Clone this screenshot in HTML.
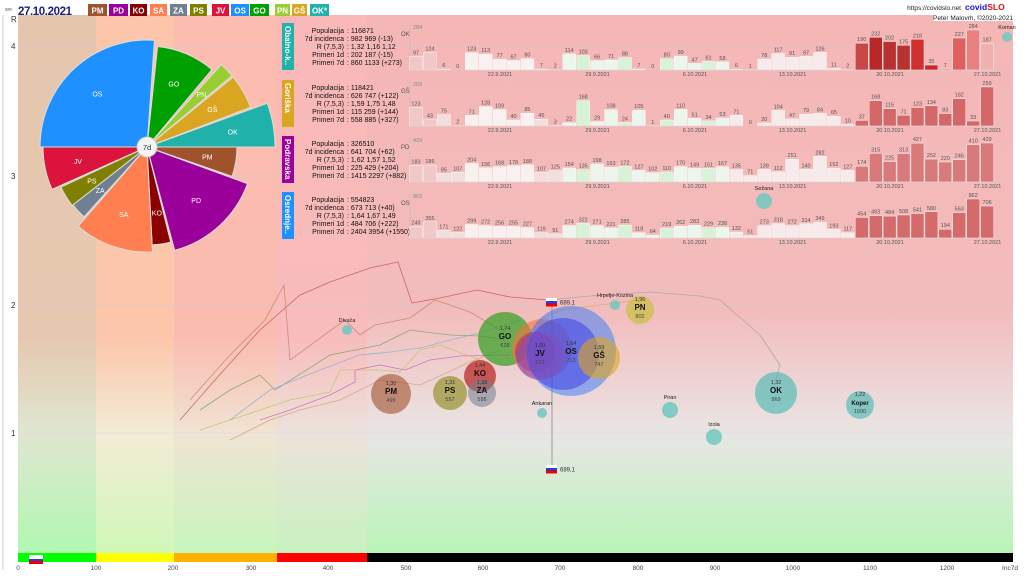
<!DOCTYPE html>
<html><head><meta charset="utf-8">
<style>
html,body{margin:0;padding:0;background:#fff;}
svg{display:block;font-family:"Liberation Sans",sans-serif;}
</style></head>
<body>
<svg id="s" width="1024" height="576" viewBox="0 0 1024 576" xmlns="http://www.w3.org/2000/svg">
<defs>
<linearGradient id="bg" x1="0" y1="0" x2="0" y2="1">
<stop offset="0" stop-color="#f5b6b6"/><stop offset="0.55" stop-color="#f3bcbc"/>
<stop offset="0.72" stop-color="#ecdada"/><stop offset="0.78" stop-color="#e8e6e4"/>
<stop offset="1" stop-color="#b8f5b8"/></linearGradient>
<linearGradient id="c1" x1="0" y1="0" x2="0" y2="1"><stop offset="0" stop-color="#e5c6ad"/><stop offset="0.6" stop-color="#e6c8b0"/><stop offset="0.78" stop-color="#e0e6d0"/><stop offset="1" stop-color="#b0f8b0"/></linearGradient>
<linearGradient id="c2" x1="0" y1="0" x2="0" y2="1"><stop offset="0" stop-color="#fdc6aa"/><stop offset="0.6" stop-color="#fcc6aa"/><stop offset="0.78" stop-color="#f2ecd6"/><stop offset="1" stop-color="#d0f8b8"/></linearGradient>
<linearGradient id="c3" x1="0" y1="0" x2="0" y2="1"><stop offset="0" stop-color="#fcbcb0"/><stop offset="0.6" stop-color="#fbbcb0"/><stop offset="0.78" stop-color="#f0e4d4"/><stop offset="1" stop-color="#c8f5bc"/></linearGradient>
<linearGradient id="c4" x1="0" y1="0" x2="0" y2="1"><stop offset="0" stop-color="#fbb8b8"/><stop offset="0.6" stop-color="#f8bcbc"/><stop offset="0.78" stop-color="#ece2dc"/><stop offset="1" stop-color="#c8f2c0"/></linearGradient>
</defs>
<rect x="0" y="0" width="1024" height="576" fill="#fff"/>
<rect x="18" y="15" width="995" height="538" fill="url(#bg)"/>
<rect x="18" y="15" width="78" height="538" fill="url(#c1)"/>
<rect x="96" y="15" width="78" height="538" fill="url(#c2)"/>
<rect x="174" y="15" width="103" height="538" fill="url(#c3)"/>
<rect x="277" y="15" width="90" height="538" fill="url(#c4)"/>
<line x1="3" y1="15" x2="3" y2="570" stroke="#ccc"/>
<g stroke="#d8c8c8" stroke-width="0.8">
<line x1="18" y1="46" x2="1013" y2="46"/><line x1="18" y1="176" x2="1013" y2="176"/>
<line x1="18" y1="305" x2="1013" y2="305"/><line x1="18" y1="433" x2="1013" y2="433" stroke="#ddd"/></g>
<g font-size="8" fill="#333"><text x="11" y="22">R</text><text x="11" y="49">4</text><text x="11" y="179">3</text><text x="11" y="308">2</text><text x="11" y="436">1</text></g>
<rect x="18" y="553" width="78" height="9" fill="#00ff00"/><rect x="96" y="553" width="78" height="9" fill="#ffff00"/>
<rect x="174" y="553" width="103" height="9" fill="#ffb000"/><rect x="277" y="553" width="90" height="9" fill="#ff0000"/>
<rect x="367" y="553" width="646" height="9" fill="#000"/>
<rect x="29" y="555" width="14" height="4" fill="#fff"/><rect x="29" y="559" width="14" height="2.5" fill="#2040e0"/><rect x="29" y="561" width="14" height="3" fill="#e00"/>
<g font-size="6.5" fill="#444" text-anchor="middle">
<text x="18" y="570">0</text><text x="96" y="570">100</text><text x="173" y="570">200</text><text x="251" y="570">300</text><text x="328" y="570">400</text><text x="406" y="570">500</text><text x="483" y="570">600</text><text x="560" y="570">700</text><text x="638" y="570">800</text><text x="715" y="570">900</text><text x="793" y="570">1000</text><text x="870" y="570">1100</text><text x="947" y="570">1200</text><text x="1010" y="570">Inc7d</text></g>
<text x="5" y="11" font-size="5" fill="#555">sre</text>
<text x="18" y="15" font-size="11.5" font-weight="bold" fill="#1a237e" textLength="54">27.10.2021</text>
<g font-size="8" font-weight="bold" fill="#fff" text-anchor="middle">
<rect x="88" y="4" width="19" height="12" fill="#a0522d"/><text x="97.5" y="13.5">PM</text>
<rect x="109" y="4" width="19" height="12" fill="#9b009b"/><text x="118.5" y="13.5">PD</text>
<rect x="130" y="4" width="17" height="12" fill="#8b0000"/><text x="138.5" y="13.5">KO</text>
<rect x="150" y="4" width="17" height="12" fill="#ff7f50"/><text x="158.5" y="13.5">SA</text>
<rect x="170" y="4" width="17" height="12" fill="#708090"/><text x="178.5" y="13.5">ZA</text>
<rect x="190" y="4" width="17" height="12" fill="#808000"/><text x="198.5" y="13.5">PS</text>
<rect x="212" y="4" width="17" height="12" fill="#dc143c"/><text x="220.5" y="13.5">JV</text>
<rect x="231" y="4" width="18" height="12" fill="#1e90ff"/><text x="240" y="13.5">OS</text>
<rect x="250" y="4" width="19" height="12" fill="#00a000"/><text x="259.5" y="13.5">GO</text>
<rect x="275" y="4" width="15" height="12" fill="#9acd32"/><text x="282.5" y="13.5">PN</text>
<rect x="292" y="4" width="15" height="12" fill="#daa520"/><text x="299.5" y="13.5">GŠ</text>
<rect x="310" y="4" width="19" height="12" fill="#20b2aa"/><text x="319.5" y="13.5">OK*</text></g>
<text x="961" y="10" font-size="6.5" fill="#222" text-anchor="end">https://covidslo.net</text>
<text x="965" y="10" font-size="8.5" font-weight="bold" fill="#1010e0">covid<tspan fill="#e01010">SLO</tspan></text>
<rect x="933" y="13" width="80" height="8" fill="#fff"/>
<text x="1013" y="20" font-size="6.5" fill="#222" text-anchor="end">Peter Malovrh, ©2020-2021</text>
<g id="pie"></g>
<g id="panels"></g>
<g id="bub"></g>
</svg>
<script>
var NS="http://www.w3.org/2000/svg";
function el(p,t,a,txt){var e=document.createElementNS(NS,t);for(var k in a)e.setAttribute(k,a[k]);if(txt!==undefined)e.textContent=txt;p.appendChild(e);return e;}
var pie=document.getElementById('pie'),cx=147,cy=147;
var sec=[["OS",270,364,107,"#1e90ff"],["GO",366,400,101,"#00a000"],["PN",402,410,111,"#9acd32"],["GŠ",411,429,111,"#daa520"],["OK",430,450,128,"#20b2aa"],["PM",450,469,90,"#a0522d"],["PD",470,525,107,"#9b009b"],["KO",526,537,98,"#8b0000"],["SA",537,581,105,"#ff7f50"],["ZA",582,592,94,"#708090"],["PS",592,605,95,"#808000"],["JV",606,630,104,"#dc143c"]];
function pt(a,r){var t=a*Math.PI/180;return [cx+r*Math.sin(t),cy-r*Math.cos(t)];}
sec.forEach(function(s){var a0=s[1],a1=s[2],r=s[3];var p0=pt(a0,r),p1=pt(a1,r);
el(pie,'path',{d:'M'+cx+','+cy+'L'+p0[0]+','+p0[1]+'A'+r+','+r+' 0 '+((a1-a0)>180?1:0)+' 1 '+p1[0]+','+p1[1]+'Z',fill:s[4],stroke:'#ddd','stroke-width':1});
var m=pt((a0+a1)/2,r*0.68);el(pie,'text',{x:m[0],y:m[1]+2.5,'font-size':7,fill:'#fff','text-anchor':'middle'},s[0]);});
el(pie,'circle',{cx:cx,cy:cy,r:10,fill:'#f4f4f4',stroke:'#ccc'});
el(pie,'text',{x:cx,y:cy+3,'font-size':7.5,fill:'#333','text-anchor':'middle'},'7d');
var P=document.getElementById('panels');
var rows=[
{n:"Obalno-k..",c:"#20b2aa",code:"OK",mx:284,y0:23,base:70,late:"#c83232",v:["Populacija : 116871","7d incidenca : 982 969 (-13)","R (7,5,3) : 1,32 1,16 1,12","Primeri 1d : 202 187 (-15)","Primeri 7d : 860 1133 (+273)"],
d:[97,124,6,0,123,113,77,67,80,7,2,114,103,66,71,88,7,0,80,99,47,61,58,6,1,78,117,91,97,126,11,2,190,232,202,175,218,35,7,227,284,187]},
{n:"Goriška",c:"#daa520",code:"GŠ",mx:259,y0:80,base:126,late:"#d46868",v:["Populacija : 118421","7d incidenca : 626 747 (+122)","R (7,5,3) : 1,59 1,75 1,48","Primeri 1d : 115 259 (+144)","Primeri 7d : 558 885 (+327)"],
d:[123,43,75,2,71,128,109,40,85,45,3,22,168,29,108,24,105,1,40,110,51,34,53,71,0,20,104,47,79,84,65,10,37,168,115,71,123,134,83,182,33,259]},
{n:"Podravska",c:"#9b009b",code:"PD",mx:429,y0:136,base:182,late:"#d97a7a",v:["Populacija : 326510","7d incidenca : 641 704 (+62)","R (7,5,3) : 1,62 1,57 1,52","Primeri 1d : 225 429 (+204)","Primeri 7d : 1415 2297 (+882)"],
d:[183,186,95,107,204,156,168,178,188,107,125,154,135,198,163,172,127,102,110,170,149,151,167,135,71,139,112,251,140,282,152,127,174,315,225,313,427,252,220,246,410,429]},
{n:"Osrednje..",c:"#1e90ff",code:"OS",mx:862,y0:192,base:238,late:"#d46a6a",v:["Populacija : 554823","7d incidenca : 673 713 (+40)","R (7,5,3) : 1,64 1,67 1,49","Primeri 1d : 484 706 (+222)","Primeri 7d : 2404 3954 (+1550)"],
d:[249,355,171,122,299,272,256,255,227,119,91,274,322,271,221,285,118,64,219,262,283,229,238,132,51,273,318,272,314,349,193,117,454,493,484,508,541,580,194,563,862,706]}];
var dates=["22.9.2021","29.9.2021","6.10.2021","13.10.2021","20.10.2021","27.10.2021"];
rows.forEach(function(R){
 el(P,'rect',{x:282,y:R.y0,width:12,height:47,fill:R.c});
 el(P,'text',{x:0,y:0,'font-size':8,'font-weight':'bold',fill:'#fff',transform:'translate(285,'+(R.y0+3)+') rotate(90)'},R.n);
 R.v.forEach(function(s,i){var p=s.split(' : ');var y=R.y0+10+i*8;
  el(P,'text',{x:344,y:y,'font-size':7,fill:'#111','text-anchor':'end'},p[0]);
  el(P,'text',{x:347,y:y,'font-size':7,fill:'#111'},': '+p[1]);});
 el(P,'line',{x1:410,y1:R.y0+2,x2:410,y2:R.base,stroke:'#bbb','stroke-width':0.6});
 el(P,'text',{x:413,y:R.y0+6,'font-size':5.5,fill:'#888'},String(R.mx));
 el(P,'text',{x:401,y:R.y0+13,'font-size':6,fill:'#555'},R.code);
 var H=R.base-R.y0-7;
 R.d.forEach(function(v,i){var cxp=416+i*13.93;var h=v/R.mx*H;var col;
  if(i<2)col="#f0c8c8";else if(i<11)col=(i%7==2||i%7==3)?"#f3dede":"#f9f0f0";else if(i<23)col=(i%3==0)?"#d8f2d8":"#ecf6ec";else if(i<32)col="#f6eaea";else col=R.late;
  if(i>=32&&R.code=="OK"){col=["#c84848","#b82828","#b83030","#b83232","#d03030","#c82828","#e06060","#e06060","#e88080","#f0b0b0"][i-32];}
  el(P,'rect',{x:cxp-6.5,y:R.base-h,width:13,height:h,fill:col,stroke:'#fff','stroke-width':0.4});
  el(P,'text',{x:cxp,y:R.base-h-2,'font-size':5.5,fill:'#555','text-anchor':'middle'},String(v));});
 el(P,'line',{x1:410,y1:R.base,x2:1000,y2:R.base,stroke:'#ccc','stroke-width':0.5});
 dates.forEach(function(d,k){el(P,'text',{x:500+k*97.5,y:R.base+6,'font-size':5.5,fill:'#555','text-anchor':'middle'},d);});
});
var B=document.getElementById('bub');
var lines=[["#c05050","180,420 215,380 260,330 300,295 330,282 370,268 398,262 412,303 440,298 477,290 510,297 548,300"],
["#c08070","190,400 230,355 265,320 284,285 290,360 345,320 360,335 375,325 410,318 435,300 470,312 500,330"],
["#70a060","200,410 230,390 260,375 275,390 330,355 380,345 410,330 450,335 480,336 505,340"],
["#80b0d0","230,420 270,390 320,370 360,355 390,352 420,348 450,340 480,333 520,320"],
["#c060c0","260,420 290,410 330,395 355,382 355,370 380,365 405,370 430,360 460,356 510,355"],
["#d0a070","230,440 270,420 300,410 340,400 380,380 420,385 470,362 500,350"],
["#c0c060","200,430 260,410 290,400 330,392 340,370 380,370 400,372 420,350 440,345 480,360"],
["#a0a0a0","548,300 600,295 650,292 700,296 720,300 760,335 780,365 776,380"],
["#e0a060","520,330 560,310 600,305 640,300"]];
lines.forEach(function(L){el(B,'polyline',{points:L[1],fill:'none',stroke:L[0],'stroke-width':0.8,opacity:0.8});});
el(B,'line',{x1:552,y1:302,x2:552,y2:469,stroke:'#999','stroke-width':1});
[[302],[469]].forEach(function(a){var y=a[0];el(B,'rect',{x:546,y:y-4,width:11,height:3,fill:'#fff'});el(B,'rect',{x:546,y:y-1,width:11,height:2.5,fill:'#2040e0'});el(B,'rect',{x:546,y:y+1.5,width:11,height:3,fill:'#e00'});el(B,'text',{x:560,y:y+2.5,'font-size':6,fill:'#333'},'689,1');});
var bub=[[391,394,20,"#a0522d",0.6,"1,30","PM","499"],[450,393,17,"#808000",0.55,"1,31","PS","557"],[480,376,16,"#b00000",0.6,"1,44","KO",""],[482,393,14,"#708090",0.55,"1,38","ZA","598"],
[505,339,27,"#30a020",0.7,"1,74","GO","628"],[542,349,30,"#ff7040",0.55,"","",""],[535,352,20,"#dc143c",0.5,"","",""],[571,351,45,"#1e70ff",0.45,"","",""],[563,354,36,"#3838e8",0.5,"1,64","OS","713"],[540,356,24,"#8050c0",0.6,"1,60","JV","673"],
[599,358,21,"#daa520",0.6,"1,59","GŠ","747"],[640,310,14,"#c8c040",0.7,"1,96","PN","802"],[776,393,21,"#40b8b0",0.6,"1,32","OK","969"],[860,405,14,"#40b8b0",0.6,"1,22","Koper","1090"]];
bub.forEach(function(b){el(B,'circle',{cx:b[0],cy:b[1],r:b[2],fill:b[3],'fill-opacity':b[4]});
 if(b[6]){var cx2=b[0]+(b[6]=="OS"?8:0),cy2=b[1]-2;el(B,'text',{x:cx2,y:cy2-7,'font-size':5.5,fill:'#333','text-anchor':'middle'},b[5]);
 el(B,'text',{x:cx2,y:cy2+2,'font-size':b[6]=="Koper"?6:8,'font-weight':'bold',fill:'#111','text-anchor':'middle'},b[6]);
 if(b[7])el(B,'text',{x:cx2,y:cy2+10,'font-size':5.5,fill:'#444','text-anchor':'middle'},b[7]);}});
[[347,330,5,"Divača"],[615,305,5,"Hrpelje-Kozina"],[542,413,5,"Ankaran"],[670,410,8,"Piran"],[714,437,8,"Izola"],[764,201,8,"Sežana"],[1007,37,5,"Koman"]].forEach(function(s){
 el(B,'circle',{cx:s[0],cy:s[1],r:s[2],fill:'#70c8c0','fill-opacity':0.85});
 el(B,'text',{x:s[0],y:s[1]-s[2]-3,'font-size':5.5,fill:'#222','text-anchor':'middle'},s[3]);});
</script>
</body></html>
